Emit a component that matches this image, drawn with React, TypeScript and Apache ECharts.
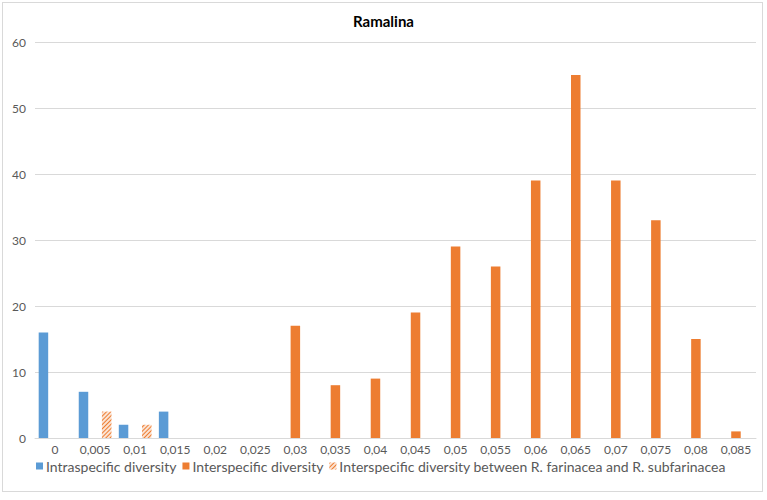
import React, { useEffect, useRef } from "react";
import * as echarts from "echarts";

const categories = ["0", "0,005", "0,01", "0,015", "0,02", "0,025", "0,03", "0,035", "0,04", "0,045", "0,05", "0,055", "0,06", "0,065", "0,07", "0,075", "0,08", "0,085"];
const intraspecific = [16, 7, 2, 4, null, null, null, null, null, null, null, null, null, null, null, null, null, null];
const interspecific = [null, null, null, null, null, null, 17, 8, 9, 19, 29, 26, 39, 55, 39, 33, 15, 1];
const betweenFarinacea = [null, 4, 2, null, null, null, null, null, null, null, null, null, null, null, null, null, null, null];
const seriesNames = ["Intraspecific diversity", "Interspecific diversity", "Interspecific diversity between R. farinacea and R. subfarinacea"];

export default function App() {
  const ref = useRef<HTMLDivElement>(null);
  useEffect(() => {
    const chart = echarts.init(ref.current!, null, { renderer: "svg" });
    const font = "Lato, 'Open Sans', sans-serif";
    const hatch = {
      color: "#ED7D31",
      symbol: "rect",
      symbolSize: 1,
      dashArrayX: [1, 0],
      dashArrayY: [1, 1.6],
      rotation: -Math.PI / 4,
    };
    chart.setOption({
      animation: false,
      title: {
        text: "Ramalina",
        left: "center",
        top: 8,
        textStyle: { fontFamily: font, fontSize: 15, fontWeight: "bold", color: "#000" },
      },
      grid: { left: 35, right: 11, top: 42, bottom: 62, containLabel: false },
      legend: {
        left: 36,
        top: 459,
        width: 740,
        padding: 0,
        itemWidth: 7,
        itemHeight: 7,
        itemGap: 6,
        icon: "rect",
        textStyle: { fontFamily: font, fontSize: 14, lineHeight: 14, color: "#595959", padding: [0, 0, 0, -2] },
        data: seriesNames,
      },
      xAxis: {
        type: "category",
        data: categories,
        axisLine: { lineStyle: { color: "#d9d9d9" } },
        axisTick: { show: false },
        axisLabel: { fontFamily: font, fontSize: 12, lineHeight: 12, color: "#595959", margin: 5 },
      },
      yAxis: {
        type: "value",
        min: 0,
        max: 60,
        interval: 10,
        axisLine: { show: false },
        axisTick: { show: false },
        axisLabel: { fontFamily: font, fontSize: 12, color: "#595959", margin: 9 },
        splitLine: { lineStyle: { color: "#d9d9d9" } },
      },
      series: [
        {
          name: seriesNames[0],
          type: "bar",
          data: intraspecific,
          barWidth: 9.5,
          barGap: "22%",
          itemStyle: { color: "#5B9BD5" },
        },
        {
          name: seriesNames[1],
          type: "bar",
          data: interspecific,
          barWidth: 9.5,
          barGap: "22%",
          itemStyle: { color: "#ED7D31" },
        },
        {
          name: seriesNames[2],
          type: "bar",
          data: betweenFarinacea,
          barWidth: 9.5,
          barGap: "22%",
          itemStyle: { color: "#fbe3d3", decal: hatch },
        },
      ],
    });
    return () => chart.dispose();
  }, []);
  return (
    <div style={{ position: "fixed", left: 0, top: 0, width: 767, height: 500, background: "#fff" }}>
      <div style={{ position: "absolute", left: 2, top: 2, width: 761, height: 490, border: "1px solid #d9d9d9", boxSizing: "border-box" }} />
      <div ref={ref} style={{ position: "absolute", left: 0, top: 0, width: 767, height: 500 }} />
    </div>
  );
}
